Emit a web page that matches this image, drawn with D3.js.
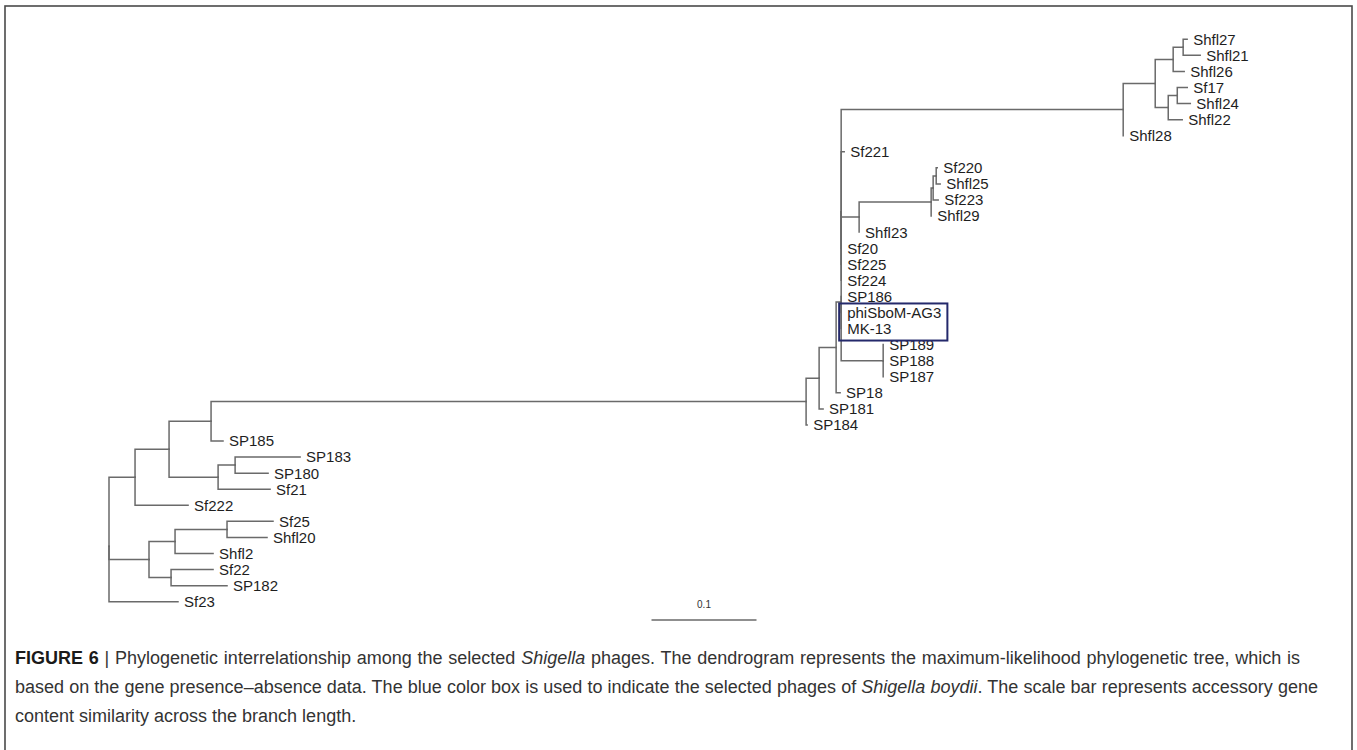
<!DOCTYPE html>
<meta charset="utf-8">
<style>
body { margin: 0; background: #fff; }
svg { display: block; font-family: "Liberation Sans", Arial, sans-serif; }
.branch { fill: none; stroke: #6a6a6a; stroke-width: 1.5; stroke-linecap: square; }
.tip { font-size: 15px; fill: #1e1e1e; }
.caption { font-size: 18px; fill: #333; }
</style>
<svg width="1357" height="750"></svg>
<script src="https://cdn.jsdelivr.net/npm/d3@7"></script>
<script>
// tree as [node, parent, branch length], children listed top to bottom
var edges = [
  ['root', '', 0],
  ['L5', 'root', 0.0248],
  ['L2', 'L5', 0.0324],
  ['L1', 'L2', 0.0400],
  ['Na', 'L1', 0.5667],
  ['Nb', 'Na', 0.0124],
  ['Nc', 'Nb', 0.0162],
  ['X', 'Nc', 0.0048],
  ['A', 'X', 0],
  ['Rf', 'A', 0.2686],
  ['Re', 'Rf', 0.0305],
  ['Rb', 'Re', 0.0171],
  ['Ra', 'Rb', 0.0095],
  ['Shfl27', 'Ra', 0.0038],
  ['Shfl21', 'Ra', 0.0162],
  ['Shfl26', 'Rb', 0.0105],
  ['Rd', 'Re', 0.0124],
  ['Rc', 'Rd', 0.0086],
  ['Sf17', 'Rc', 0.0095],
  ['Shfl24', 'Rc', 0.0124],
  ['Shfl22', 'Rd', 0.0133],
  ['Shfl28', 'Rf', 0],
  ['Sf221', 'A', 0.0029],
  ['H', 'A', 0.0171],
  ['G', 'H', 0.0686],
  ['G1', 'G', 0.0019],
  ['G2', 'G1', 0.0029],
  ['Sf220', 'G2', 0.0010],
  ['Shfl25', 'G2', 0.0038],
  ['Sf223', 'G1', 0.0048],
  ['Shfl29', 'G', 0],
  ['Shfl23', 'H', 0],
  ['Sf20', 'A', 0],
  ['Sf225', 'A', 0],
  ['Sf224', 'A', 0],
  ['SP186', 'X', 0],
  ['phiSboM-AG3', 'X', 0],
  ['MK-13', 'X', 0],
  ['S', 'X', 0.0400],
  ['SP189', 'S', 0],
  ['SP188', 'S', 0],
  ['SP187', 'S', 0],
  ['SP18', 'Nc', 0.0038],
  ['SP181', 'Nb', 0.0038],
  ['SP184', 'Na', 0.0010],
  ['SP185', 'L1', 0.0114],
  ['L3', 'L2', 0.0467],
  ['L4', 'L3', 0.0162],
  ['SP183', 'L4', 0.0619],
  ['SP180', 'L4', 0.0314],
  ['Sf21', 'L3', 0.0495],
  ['Sf222', 'L5', 0.0505],
  ['M1', 'root', 0.0381],
  ['M2', 'M1', 0.0248],
  ['M3', 'M2', 0.0495],
  ['Sf25', 'M3', 0.0438],
  ['Shfl20', 'M3', 0.0381],
  ['Shfl2', 'M2', 0.0362],
  ['M4', 'M1', 0.0210],
  ['Sf22', 'M4', 0.0400],
  ['SP182', 'M4', 0.0533],
  ['Sf23', 'root', 0.0657]
];
var boxedTips = ['phiSboM-AG3', 'MK-13'];
var scaleBarValue = 0.1;
var scaleBarLabel = '0.1';
var captionLines = [
  [['FIGURE 6', 'b'], [' | Phylogenetic interrelationship among the selected ', ''], ['Shigella', 'i'],
   [' phages. The dendrogram represents the maximum-likelihood phylogenetic tree, which is', '']],
  [['based on the gene presence\u2013absence data. The blue color box is used to indicate the selected phages of ', ''],
   ['Shigella boydii', 'i'], ['. The scale bar represents accessory gene', '']],
  [['content similarity across the branch length.', '']]
];
var captionWidths = [1285, 1303, null]; // justified lines, last one ragged

var svg = d3.select('svg');

// figure frame (open at the bottom, runs off the page)
svg.append('rect')
  .attr('x', 5).attr('y', 6)
  .attr('width', 1347).attr('height', 780)
  .attr('fill', 'none').attr('stroke', '#4a4a4a').attr('stroke-width', 1.6);

var root = d3.stratify()
  .id(function (d) { return d[0]; })
  .parentId(function (d) { return d[1] || null; })(edges);

var leaves = root.leaves();
var x = d3.scaleLinear().domain([0, 1]).range([109, 1159]);
var y = d3.scaleLinear().domain([0, leaves.length - 1]).range([39.3, 601.7]);

root.eachBefore(function (d) {
  d.dist = d.parent ? d.parent.dist + d.data[2] : 0;
  d.px = x(d.dist);
});
leaves.forEach(function (d, i) { d.py = y(i); });
root.eachAfter(function (d) {
  if (d.children) d.py = d3.mean(d.children, function (c) { return c.py; });
});

var g = svg.append('g');

g.selectAll('.branch')
  .data(root.links())
  .enter()
  .append('path')
  .attr('class', 'branch')
  .attr('d', function (l) {
    return 'M' + l.source.px + ',' + l.source.py + 'V' + l.target.py + 'H' + l.target.px;
  });

var tips = g.selectAll('.tip')
  .data(leaves)
  .enter()
  .append('text')
  .attr('class', 'tip')
  .attr('x', function (d) { return d.px + 6; })
  .attr('y', function (d) { return d.py; })
  .attr('dy', '0.36em')
  .text(function (d) { return d.id; });

// blue box round the S. boydii phages
var boxed = tips.filter(function (d) { return boxedTips.indexOf(d.id) >= 0; });
var bx0 = d3.min(boxed.data(), function (d) { return d.px; }) - 2;
var bx1 = d3.max(boxed.nodes(), function (n) { var b = n.getBBox(); return b.x + b.width; }) + 6;
var by0 = d3.min(boxed.data(), function (d) { return d.py; }) - 9;
var by1 = d3.max(boxed.data(), function (d) { return d.py; }) + 12;
g.append('rect')
  .attr('x', bx0).attr('y', by0)
  .attr('width', bx1 - bx0).attr('height', by1 - by0)
  .attr('fill', 'none').attr('stroke', '#24296b').attr('stroke-width', 2);

// scale bar
var barLen = x(scaleBarValue) - x(0);
var barMid = 704;
g.append('line')
  .attr('x1', barMid - barLen / 2).attr('x2', barMid + barLen / 2)
  .attr('y1', 620).attr('y2', 620)
  .attr('stroke', '#6a6a6a').attr('stroke-width', 1.5);
g.append('text')
  .attr('x', barMid).attr('y', 608)
  .attr('text-anchor', 'middle')
  .attr('font-size', 10).attr('fill', '#333')
  .text(scaleBarLabel);

// caption, justified by widening the word gaps
var cap = svg.append('g');
captionLines.forEach(function (line, i) {
  var t = cap.append('text')
    .attr('class', 'caption')
    .attr('x', 15).attr('y', 664 + i * 29);
  line.forEach(function (seg) {
    t.append('tspan')
      .attr('font-weight', seg[1] === 'b' ? 'bold' : null)
      .attr('font-style', seg[1] === 'i' ? 'italic' : null)
      .attr('fill', seg[1] === 'b' ? '#1a1a1a' : null)
      .text(seg[0]);
  });
  if (captionWidths[i]) {
    var natural = t.node().getComputedTextLength();
    var gaps = line.map(function (s) { return s[0]; }).join('').split(' ').length - 1;
    t.attr('word-spacing', (captionWidths[i] - natural) / gaps);
  }
});
</script>
